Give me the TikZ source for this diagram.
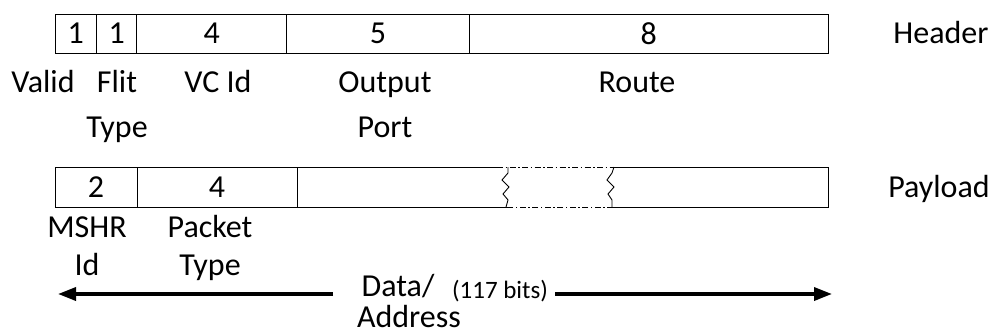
\documentclass[tikz,border=0pt]{standalone}
\usepackage{fontspec}
\setmainfont{Carlito}
\usetikzlibrary{arrows.meta}
\begin{document}
\begin{tikzpicture}[x=1pt,y=-1pt,
  lbl/.style={font=\fontsize{32}{38}\selectfont, inner sep=0pt, anchor=base},
  cell/.style={draw, line width=0.8pt, inner sep=0pt, font=\fontsize{32}{38}\selectfont},
  bigarrow/.style={line width=3.5pt, -{Triangle[length=18pt,width=13pt]}},
  edge/.style={line width=0.9pt},
  brk/.style={line width=1pt, dash pattern=on 6pt off 2.5pt on 1.5pt off 2.5pt}]
\useasboundingbox (0,0) rectangle (993,335);
% header cells
\node[cell, minimum width=41.7pt, minimum height=39pt] (h1) at (75.85,33.5) {1};
\node[cell, minimum width=40pt, minimum height=39pt] (h2) at (116.7,33.5) {1};
\node[cell, minimum width=150pt, minimum height=39pt] (h3) at (211.7,33.5) {4};
\node[cell, minimum width=182.6pt, minimum height=39pt] (h4) at (378,33.5) {5};
\node[cell, minimum width=358.7pt, minimum height=39pt] (h5) at (648.65,33.5) {8};
\node[lbl] (hdr) at (941,43) {Header};
% header labels
\node[lbl] (valid) at (43,92) {Valid};
\node[lbl] (flit) at (117,92) {Flit};
\node[lbl] (flit2) at (117,137) {Type};
\node[lbl] (vcid) at (218,92) {VC Id};
\node[lbl] (outp) at (385,92) {Output};
\node[lbl] (outp2) at (385,137) {Port};
\node[lbl] (route) at (637,92) {Route};
% payload cells
\node[cell, minimum width=82pt, minimum height=40pt] (p1) at (96,187) {2};
\node[cell, minimum width=160pt, minimum height=40pt] (p2) at (217,187) {4};
\coordinate (pa) at (297,167);
\coordinate (pb) at (297,207);
\coordinate (pc) at (828,167);
\coordinate (pd) at (828,207);
\draw[edge] (pa) -- (497,167);
\draw[brk] (497,167) -- (613,167);
\draw[edge] (613,167) -- (pc) -- (pd) -- (613,207);
\draw[brk] (613,207) -- (507,207);
\draw[edge] (507,207) -- (pb);
% zigzag breaks
\draw[edge] (508,167) -- (508,173) -- (502,180) -- (509,187) -- (503,194) -- (508,200) -- (506,207);
\draw[edge] (614,167) -- (612,173) -- (607,180) -- (614,187) -- (608,194) -- (612,200) -- (612,207);
\node[lbl] (pay) at (939,197) {Payload};
% payload labels
\node[lbl] (mshr) at (87,237) {MSHR};
\node[lbl] (mshr2) at (87,275) {Id};
\node[lbl] (ptype) at (210,237) {Packet};
\node[lbl] (ptype2) at (210,275) {Type};
\node[lbl] (data) at (398,296) {Data/};
\node[lbl] (data2) at (409,327) {Address};
\node[lbl, font=\fontsize{25}{29}\selectfont] (bits) at (500,298) {(117 bits)};
\coordinate (lend) at (58,294);
\coordinate (rend) at (832,294);
\draw[bigarrow] (333,294) -- (lend);
\draw[bigarrow] (555,294) -- (rend);
\end{tikzpicture}
\end{document}
